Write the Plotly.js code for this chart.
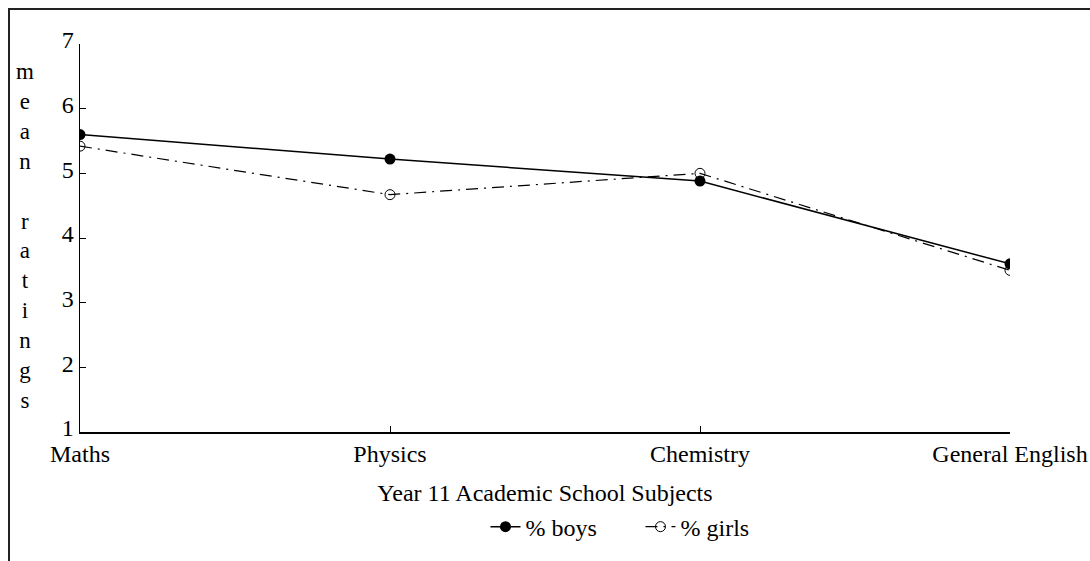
<!DOCTYPE html>
<html>
<head>
<meta charset="utf-8">
<script src="https://cdn.plot.ly/plotly-3.0.1.min.js"></script>
<style>
  html, body { margin: 0; padding: 0; background: #fff; }
  #chart { position: absolute; left: 0; top: 0; width: 1090px; height: 561px; }
  #frame { position: absolute; left: 8px; top: 8px; width: 1082px; height: 553px;
           border-top: 2px solid #222; border-left: 2px solid #222; box-sizing: border-box;
           pointer-events: none; }
</style>
</head>
<body>
<div id="chart"></div>
<div id="frame"></div>
<script>
const subjects = ["Maths", "Physics", "Chemistry", "General English"];
const boys = [5.6, 5.22, 4.88, 3.6];
const girls = [5.42, 4.67, 5.0, 3.5];
const yTicks = [1, 2, 3, 4, 5, 6, 7];
const yTitleLetters = ["m", "e", "a", "n", "", "r", "a", "t", "i", "n", "g", "s"];

const fam = "Liberation Serif, Times New Roman, serif";

const traces = [
  {
    x: subjects, y: boys, name: "% boys", type: "scatter", mode: "lines+markers",
    line: { color: "#000", width: 1.5 },
    marker: { symbol: "circle", size: 11, color: "#000" }
  },
  {
    x: subjects, y: girls, name: "% girls", type: "scatter", mode: "lines+markers",
    line: { color: "#000", width: 1.2, dash: "12px,6px,2px,6px" },
    marker: { symbol: "circle-open", size: 10, color: "#000", line: { width: 1 } }
  }
];

const layout = {
  width: 1090, height: 561,
  margin: { l: 80, r: 80, t: 44, b: 126 },
  paper_bgcolor: "#fff", plot_bgcolor: "#fff",
  font: { family: fam, size: 24, color: "#000" },
  showlegend: true,
  legend: {
    orientation: "h", x: 0.436, xanchor: "left", y: -0.245, yanchor: "middle",
    font: { family: fam, size: 24, color: "#000" },
    entrywidth: 110, entrywidthmode: "pixels", itemwidth: 30
  },
  xaxis: {
    type: "category", categoryarray: subjects, range: [0, 3],
    showline: true, linecolor: "#000", linewidth: 1.5,
    showgrid: false, zeroline: false,
    ticks: "inside", ticklen: 6, tickcolor: "#000", tickwidth: 1,
    tickfont: { family: fam, size: 24, color: "#000" },
    title: { text: "Year 11 Academic School Subjects", standoff: 18,
             font: { family: fam, size: 24, color: "#000" } }
  },
  yaxis: {
    range: [1, 7], tickvals: yTicks, ticktext: yTicks.map(String),
    showline: true, linecolor: "#000", linewidth: 1.5,
    showgrid: false, zeroline: false,
    ticks: "inside", ticklen: 6, tickcolor: "#000", tickwidth: 1,
    ticklabelshift: -4,
    tickfont: { family: fam, size: 24, color: "#000" }
  },
  annotations: [{
    xref: "paper", yref: "paper", x: -0.059, y: 0.505, xanchor: "center", yanchor: "middle",
    text: yTitleLetters.map(c => c === "" ? " " : c).join("<br>"),
    showarrow: false, align: "center",
    font: { family: fam, size: 23, color: "#000" }
  }]
};

Plotly.newPlot("chart", traces, layout, { displayModeBar: false, staticPlot: true });
</script>
</body>
</html>
